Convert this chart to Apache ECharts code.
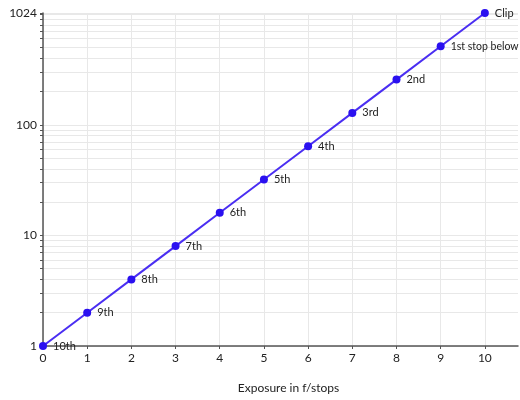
<!DOCTYPE html>
<html><head><meta charset="utf-8">
<script src="https://cdn.jsdelivr.net/npm/echarts@6/dist/echarts.min.js"></script>
<style>html,body{margin:0;padding:0;background:#fff}#c{width:520px;height:400px}</style>
</head><body><div id="c"></div>
<script>
var stops = [0, 1, 2, 3, 4, 5, 6, 7, 8, 9, 10];
var values = [1, 2, 4, 8, 16, 32, 64, 128, 256, 512, 1024];
var pointLabels = ['10th', '9th', '8th', '7th', '6th', '5th', '4th', '3rd', '2nd', '1st stop below', 'Clip'];
var xTicks = [0, 1, 2, 3, 4, 5, 6, 7, 8, 9, 10];
var yLabelTicks = [1, 10, 100, 1024];
var yGridTicks = [1, 2, 3, 4, 5, 6, 7, 8, 9, 10, 20, 30, 40, 50, 60, 70, 80, 90, 100, 200, 300, 400, 500, 600, 700, 800, 900, 1000, 1024];

var chart = echarts.init(document.getElementById('c'));
chart.setOption({
  animation: false,
  grid: {left: 43, right: 2, top: 13, bottom: 54, containLabel: false},
  xAxis: {
    type: 'value', min: 0, max: 10.75,
    name: 'Exposure in f/stops', nameLocation: 'middle', nameGap: 36,
    nameTextStyle: {color: '#222', fontSize: 12, fontFamily: 'Lato', padding: [0, 0, 0, 16]},
    axisLine: {lineStyle: {color: '#555', width: 1.5}},
    axisTick: {customValues: xTicks, length: 3, lineStyle: {color: '#555'}},
    axisLabel: {customValues: xTicks, color: '#222', fontSize: 12, fontFamily: 'Lato', margin: 6},
    splitLine: {show: true, lineStyle: {color: '#e8e8e8', width: 1}}
  },
  yAxis: {
    type: 'log', logBase: 10, min: 1, max: 1024,
    axisLine: {show: true, lineStyle: {color: '#555', width: 1.5}},
    axisTick: {show: true, customValues: yGridTicks, length: 3, lineStyle: {color: '#555'}},
    axisLabel: {customValues: yLabelTicks, color: '#222', fontSize: 12, fontFamily: 'Lato', margin: 6,
      formatter: function (v) { return String(Math.round(v)); }},
    splitLine: {show: true, lineStyle: {color: '#e8e8e8', width: 1}}
  },
  series: [{
    type: 'line',
    data: stops.map(function (s, i) {
      var item = {value: [s, values[i]]};
      if (pointLabels[i].length > 6) item.label = {fontSize: 10.5};
      return item;
    }),
    symbol: 'circle', symbolSize: 8,
    lineStyle: {color: '#4a2ef2', width: 2},
    itemStyle: {color: '#2a10f0'},
    label: {
      show: true, position: 'right', distance: 6,
      color: '#222', fontSize: 11, fontFamily: 'Lato',
      formatter: function (p) { return pointLabels[p.dataIndex]; }
    }
  }]
});
</script></body></html>
